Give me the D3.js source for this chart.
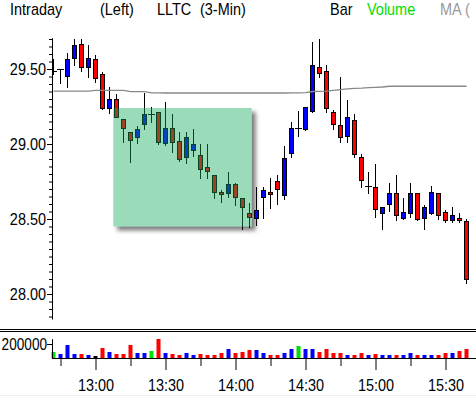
<!DOCTYPE html>
<html>
<head>
<meta charset="utf-8">
<script src="https://cdn.jsdelivr.net/npm/d3@7"></script>
<style>
  body { margin: 0; background: #fff; }
  svg { display: block; font-family: "Liberation Sans", Arial, sans-serif; }
</style>
</head>
<body>
<svg width="476" height="396"></svg>
<script>
// 3-minute bars
const times = ['12:42','12:45','12:48','12:51','12:54','12:57',
  '13:00','13:03','13:06','13:09','13:12','13:15','13:18','13:21','13:24','13:27',
  '13:30','13:33','13:36','13:39','13:42','13:45','13:48','13:51','13:54','13:57',
  '14:00','14:03','14:06','14:09','14:12','14:15','14:18','14:21','14:24','14:27',
  '14:30','14:33','14:36','14:39','14:42','14:45','14:48','14:51','14:54','14:57',
  '15:00','15:03','15:06','15:09','15:12','15:15','15:18','15:21','15:24','15:27',
  '15:30','15:33','15:36','15:39']

const opens = [29.49,29.50,29.455,29.575,29.665,29.515,29.565,29.467,29.242,29.298,
  29.165,29.078,29.045,29.131,29.198,29.211,29.005,29.105,29.022,28.915,
  28.958,28.925,28.845,28.791,28.68,28.675,28.733,28.638,28.54,28.509,
  28.645,28.678,28.755,28.658,28.938,29.105,29.102,29.222,29.511,29.485,
  29.211,29.125,29.051,29.158,28.911,28.72,28.711,28.542,28.598,28.671,
  28.509,28.542,28.671,28.509,28.542,28.671,28.545,28.491,28.505,28.485]
const highs = [29.567,29.50,29.605,29.70,29.70,29.66,29.593,29.482,29.378,29.333,
  29.165,29.078,29.12,29.338,29.249,29.211,29.28,29.20,29.078,29.082,
  29.098,29.0,29.0,28.791,28.693,28.811,28.742,28.638,28.605,28.715,
  28.715,28.775,28.791,28.987,29.145,29.22,29.249,29.678,29.70,29.529,
  29.227,29.445,29.293,29.20,28.933,28.813,28.867,28.578,28.738,28.791,
  28.64,28.738,28.671,28.591,28.72,28.671,28.558,28.578,28.538,28.498]
const lows = [29.467,29.407,29.378,29.527,29.489,29.449,29.411,29.233,29.209,29.178,
  29.015,28.882,29.005,29.10,29.149,28.998,28.993,28.949,28.887,28.871,
  28.922,28.771,28.771,28.638,28.615,28.649,28.593,28.433,28.449,28.46,
  28.505,28.571,28.598,28.631,28.911,29.055,29.093,29.215,29.449,29.215,
  29.10,29.015,29.015,28.911,28.715,28.675,28.515,28.433,28.555,28.493,
  28.502,28.515,28.495,28.433,28.535,28.502,28.482,28.482,28.482,28.071]
const closes = [29.49,29.50,29.565,29.66,29.511,29.571,29.438,29.242,29.298,29.182,
  29.105,29.025,29.10,29.198,29.198,29.011,29.105,29.011,28.898,29.045,
  28.998,28.835,28.818,28.682,28.665,28.733,28.645,28.582,28.511,28.56,
  28.691,28.665,28.698,28.905,29.105,29.105,29.249,29.527,29.475,29.238,
  29.131,29.045,29.178,28.931,28.758,28.72,28.565,28.578,28.671,28.525,
  28.545,28.671,28.502,28.578,28.678,28.525,28.491,28.525,28.491,28.098]

const maValues = [29.353,29.353,29.353,29.353,29.353,29.353,29.357,29.357,29.357,29.357,
  29.357,29.349,29.349,29.349,29.341,29.341,29.340,29.340,29.340,29.340,
  29.340,29.340,29.340,29.340,29.340,29.340,29.340,29.340,29.340,29.340,
  29.340,29.340,29.340,29.340,29.341,29.341,29.342,29.350,29.351,29.352,
  29.357,29.363,29.368,29.371,29.372,29.376,29.378,29.380,29.385,29.385,
  29.385,29.385,29.385,29.385,29.385,29.385,29.385,29.385,29.385,29.385]

const volumes = [86000,57000,186000,57000,57000,43000,29000,143000,86000,57000,
  57000,186000,71000,71000,100000,271000,71000,57000,43000,71000,
  43000,57000,43000,43000,71000,129000,71000,86000,114000,114000,
  71000,43000,43000,71000,129000,171000,129000,129000,86000,129000,
  71000,71000,43000,43000,71000,43000,57000,43000,43000,43000,
  43000,71000,43000,43000,43000,43000,71000,71000,100000,129000]
// u = up, d = down, n = unchanged, k = other
const volDirs = ['n','u','u','u','d','u','k','d','u','d',
  'd','d','u','u','n','d','u','d','d','u',
  'u','d','d','d','d','u','d','d','d','u',
  'u','d','d','u','u','n','u','u','d','d',
  'd','d','u','d','d','u','d','u','u','d',
  'u','u','d','u','u','d','d','u','d','d']

const priceTicks = [28.00, 28.50, 29.00, 29.50]
const timeTicks = ['13:00','13:30','14:00','14:30','15:00','15:30']
const timeMinorTicks = ['12:45','13:15','13:45','14:15','14:45','15:15']
const volTicks = [200000]

// highlighted box
const boxTimes = ['13:07:38', '14:06:56']
const boxPrices = [29.24, 28.45]

const parseT = d3.timeParse('%H:%M')
const parseTS = d3.timeParse('%H:%M:%S')

const svg = d3.select('svg')
const width = +svg.attr('width')

const bars = times.map((t, i) => ({
  t: parseT(t), o: opens[i], h: highs[i], l: lows[i], c: closes[i],
  ma: maValues[i], v: volumes[i], dir: volDirs[i]
}))

const x = d3.scaleTime()
  .domain([parseT('12:42'), parseT('15:39')])
  .range([53.5, 466.5])

const y = d3.scaleLinear()
  .domain([28, 29.5])
  .range([294, 69])

const vy = d3.scaleLinear()
  .domain([0, 200000])
  .range([358, 344])

const defs = svg.append('defs')
defs.append('clipPath').attr('id', 'plot')
  .append('rect').attr('x', 53).attr('y', 38).attr('width', width - 53).attr('height', 281)

const shadowFilter = defs.append('filter').attr('id', 'blur')
  .attr('x', '-20%').attr('y', '-20%').attr('width', '140%').attr('height', '140%')
shadowFilter.append('feGaussianBlur').attr('stdDeviation', 2)

const softFilter = defs.append('filter').attr('id', 'soft')
  .attr('x', '-10%').attr('y', '-10%').attr('width', '120%').attr('height', '120%')
softFilter.append('feGaussianBlur').attr('stdDeviation', 0.6)

const bx0 = x(parseTS(boxTimes[0]))
const bx1 = x(parseTS(boxTimes[1]))
const by0 = y(boxPrices[0])
const by1 = y(boxPrices[1])

const mask = defs.append('mask').attr('id', 'outsideBox')
mask.append('rect').attr('x', 0).attr('y', 0).attr('width', width).attr('height', 396).attr('fill', '#fff')
mask.append('rect').attr('x', bx0).attr('y', by0).attr('width', bx1 - bx0).attr('height', by1 - by0).attr('fill', '#000')

// header
const header = svg.append('g').attr('font-size', 17)
const headerItems = [
  { text: 'Intraday', x: 10, color: '#000' },
  { text: '(Left)', x: 100, color: '#000' },
  { text: 'LLTC', x: 157, color: '#000' },
  { text: '(3-Min)', x: 200, color: '#000' },
  { text: 'Bar', x: 330, color: '#000' },
  { text: 'Volume', x: 367, color: '#00e000' },
  { text: 'MA (', x: 440, color: '#999' }
]
header.selectAll('text').data(headerItems).join('text')
  .attr('x', d => d.x)
  .attr('y', 15)
  .attr('fill', d => d.color)
  .text(d => d.text)

// box shadow
svg.append('rect')
  .attr('x', bx0 + 4).attr('y', by0 + 4)
  .attr('width', bx1 - bx0).attr('height', by1 - by0)
  .attr('fill', '#666').attr('opacity', 0.85)
  .attr('filter', 'url(#blur)')
  .attr('mask', 'url(#outsideBox)')

// candles
const plot = svg.append('g').attr('clip-path', 'url(#plot)')

const candle = plot.selectAll('g.candle').data(bars).join('g')
  .attr('class', 'candle')

candle.append('line')
  .attr('x1', d => x(d.t)).attr('x2', d => x(d.t))
  .attr('y1', d => Math.round(y(d.h))).attr('y2', d => Math.round(y(d.l)) + 1)
  .attr('stroke', '#000')

candle.filter(d => d.o === d.c).append('line')
  .attr('x1', d => x(d.t) - 3.5).attr('x2', d => x(d.t) + 3.5)
  .attr('y1', d => Math.round(y(d.o)) + 0.5).attr('y2', d => Math.round(y(d.o)) + 0.5)
  .attr('stroke', '#000')

candle.filter(d => d.o !== d.c).append('rect')
  .attr('x', d => x(d.t) - 2)
  .attr('y', d => Math.round(y(Math.max(d.o, d.c))) + 0.5)
  .attr('width', 4)
  .attr('height', d => Math.max(1, Math.round(y(Math.min(d.o, d.c))) - Math.round(y(Math.max(d.o, d.c)))))
  .attr('fill', d => d.c > d.o ? '#0000ff' : '#ff0000')
  .attr('stroke', '#000')

// moving average
plot.append('path')
  .datum(bars)
  .attr('fill', 'none')
  .attr('stroke', '#888')
  .attr('stroke-width', 1.3)
  .attr('d', d3.line().x(d => x(d.t)).y(d => y(d.ma)))

// highlight box
svg.append('rect')
  .attr('x', bx0).attr('y', by0)
  .attr('width', bx1 - bx0).attr('height', by1 - by0)
  .attr('fill', 'rgb(11,170,89)')
  .attr('opacity', 0.41)
  .attr('filter', 'url(#soft)')

// price axis
const yAxisG = svg.append('g').attr('transform', 'translate(52,0)')
yAxisG.append('line')
  .attr('x1', 0.5).attr('x2', 0.5)
  .attr('y1', y(29.705)).attr('y2', y(27.83))
  .attr('stroke', '#000')

yAxisG.append('g')
  .call(d3.axisLeft(y).tickValues(d3.range(27.85, 29.71, 0.05)).tickSize(3).tickFormat(''))
  .call(g => g.select('.domain').remove())

yAxisG.append('g')
  .call(d3.axisLeft(y).tickValues(priceTicks).tickSize(5).tickPadding(1).tickFormat(d3.format('.2f')))
  .call(g => g.select('.domain').remove())
  .call(g => g.selectAll('text').attr('font-size', 17).attr('font-family', null))

// panel separator
svg.append('line').attr('x1', 0).attr('x2', width).attr('y1', 329.5).attr('y2', 329.5).attr('stroke', '#000')
svg.append('line').attr('x1', 0).attr('x2', width).attr('y1', 331.5).attr('y2', 331.5).attr('stroke', '#000')

// volume bars
const volColor = { u: '#0000ff', d: '#ff0000', n: '#00e000', k: '#000' }
svg.append('g').selectAll('rect').data(bars).join('rect')
  .attr('x', d => x(d.t) - 2)
  .attr('y', d => Math.round(vy(d.v)))
  .attr('width', 4)
  .attr('height', d => 358 - Math.round(vy(d.v)))
  .attr('fill', d => volColor[d.dir])

// volume axis
const vAxisG = svg.append('g').attr('transform', 'translate(52,0)')
vAxisG.append('line')
  .attr('x1', 0.5).attr('x2', 0.5)
  .attr('y1', vy(270000)).attr('y2', vy(0))
  .attr('stroke', '#000')
vAxisG.call(d3.axisLeft(vy).tickValues(volTicks).tickSize(5).tickPadding(0).tickFormat(d => String(d)))
  .call(g => g.select('.domain').remove())
  .call(g => g.selectAll('text').attr('font-size', 17).attr('font-family', null).classed('vol-label', true))

// time axis
svg.append('line')
  .attr('x1', 52).attr('x2', width)
  .attr('y1', 358.5).attr('y2', 358.5)
  .attr('stroke', '#000')

svg.append('g').attr('transform', 'translate(0,358)')
  .call(d3.axisBottom(x).tickValues(timeMinorTicks.map(parseT)).tickSize(8).tickFormat(''))
  .call(g => g.select('.domain').remove())

svg.append('g').attr('transform', 'translate(0,358)')
  .call(d3.axisBottom(x).tickValues(timeTicks.map(parseT)).tickSize(12).tickPadding(9).tickFormat(d3.timeFormat('%H:%M')))
  .call(g => g.select('.domain').remove())
  .call(g => g.selectAll('text').attr('font-size', 17).attr('font-family', null))

// narrow the glyphs to match the condensed screen font
svg.selectAll('text').each(function () {
  const w = this.getComputedTextLength()
  const k = d3.select(this).classed('vol-label') ? 0.8 : 0.85
  if (w > 0) d3.select(this).attr('textLength', w * k).attr('lengthAdjust', 'spacingAndGlyphs')
})

svg.append('line')
  .attr('x1', 0).attr('x2', width).attr('y1', 395.5).attr('y2', 395.5)
  .attr('stroke', '#eee')
</script>
</body>
</html>
